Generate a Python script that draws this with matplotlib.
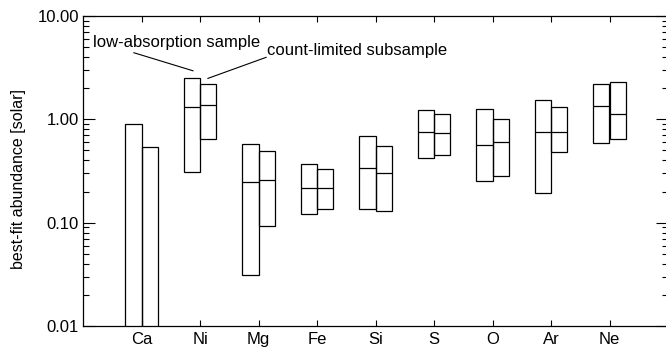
import numpy as np
import matplotlib
matplotlib.use('Agg')
import matplotlib.pyplot as plt
from matplotlib.ticker import FixedLocator, FuncFormatter, LogLocator

plt.rcParams['font.family'] = ['Liberation Sans', 'DejaVu Sans']

elements = ['Ca', 'Ni', 'Mg', 'Fe', 'Si', 'S', 'O', 'Ar', 'Ne']

# low-absorption sample (left boxes)
low_top = [0.90, 2.49, 0.573, 0.367, 0.694, 1.22, 1.26, 1.53, 2.21]
low_med = [0.005, 1.31, 0.247, 0.215, 0.336, 0.748, 0.564, 0.754, 1.34]
low_bot = [0.001, 0.307, 0.031, 0.121, 0.136, 0.425, 0.253, 0.195, 0.586]

# count-limited subsample (right boxes)
cnt_top = [0.54, 2.18, 0.493, 0.33, 0.552, 1.12, 1.00, 1.32, 2.28]
cnt_med = [0.005, 1.37, 0.257, 0.216, 0.30, 0.742, 0.599, 0.754, 1.13]
cnt_bot = [0.001, 0.649, 0.0934, 0.137, 0.129, 0.449, 0.283, 0.482, 0.64]

fig = plt.figure(figsize=(6.66, 3.49), dpi=100)
ax = fig.add_axes([83/666, 1-326/349, 585/666, 310/349])

x = np.arange(1, len(elements)+1)
w = 0.28
lw = 0.9

for xs, top, med, bot in [(x - w/2, low_top, low_med, low_bot),
                          (x + w/2, cnt_top, cnt_med, cnt_bot)]:
	top = np.array(top); bot = np.array(bot)
	ax.bar(xs, top-bot, bottom=bot, width=w, fill=False, edgecolor='black', linewidth=lw)
	ax.hlines(med, xs-w/2, xs+w/2, colors='black', linewidth=lw)

ax.set_yscale('log')
ax.set_ylim(0.01, 10)
ax.set_xlim(0, 10)

ax.xaxis.set_major_locator(FixedLocator(x))
ax.set_xticklabels(elements)
ax.yaxis.set_major_locator(LogLocator(base=10, numticks=10))
ax.yaxis.set_minor_locator(LogLocator(base=10, subs=np.arange(2, 10), numticks=20))
ax.yaxis.set_major_formatter(FuncFormatter(lambda v, p: '%.2f' % v))
ax.yaxis.set_minor_formatter(FuncFormatter(lambda v, p: ''))

ax.tick_params(axis='x', which='both', direction='in', top=True, bottom=True,
	length=4.5, width=0.8, labelsize=12, pad=4.5)
ax.tick_params(axis='y', which='major', direction='in', left=True, right=True,
	length=8.5, width=0.8, labelsize=12, pad=3)
ax.tick_params(axis='y', which='minor', direction='in', left=True, right=True,
	length=4.5, width=0.8)
for s in ax.spines.values():
	s.set_linewidth(0.9)

ax.set_ylabel('best-fit abundance [solar]', fontsize=11.5)
ax.yaxis.set_label_coords(-0.098, 0.474)

ax.text(0.17, 5.6, 'low-absorption sample', fontsize=12, va='center', ha='left')
ax.plot([0.87, 1.88], [4.41, 2.95], color='black', linewidth=0.8)
ax.text(3.15, 4.6, 'count-limited subsample', fontsize=12, va='center', ha='left')
ax.plot([3.13, 2.135], [3.98, 2.49], color='black', linewidth=0.8)

fig.savefig('out.png', dpi=100)
